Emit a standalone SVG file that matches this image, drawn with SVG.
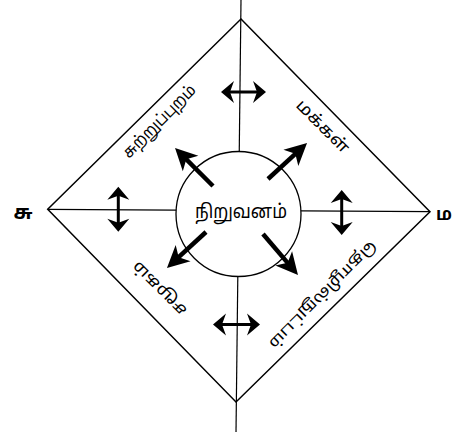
<svg xmlns="http://www.w3.org/2000/svg" width="453" height="432" viewBox="0 0 453 432">
<style>
.frame{fill:none;stroke:#000;stroke-width:1.5}
.axis{fill:none;stroke:#000;stroke-width:1.2}
.big{stroke:#000;stroke-width:4.5;fill:none}
.dbl{stroke:#000;stroke-width:3;fill:none}
.lbl{font-family:"Noto Sans Tamil","Lohit Tamil","Noto Sans","DejaVu Sans",sans-serif;fill:#000;text-anchor:middle}
</style>
<defs>
<marker id="headBig" markerUnits="userSpaceOnUse" markerWidth="40" markerHeight="40" viewBox="-20 -20 40 40" refX="0" refY="0" orient="auto">
<path d="M10,0 L-12,-11 L-6,0 L-12,11 Z" fill="#000"/>
</marker>
<marker id="headDbl" markerUnits="userSpaceOnUse" markerWidth="30" markerHeight="30" viewBox="-15 -15 30 30" refX="0" refY="0" orient="auto-start-reverse">
<path d="M6,0 L-7,-11 L-3,0 L-7,11 Z" fill="#000"/>
</marker>
</defs>
<rect width="453" height="432" fill="#fff"/>
<g id="connectors">
<polygon class="frame" points="241,19 430,211.7 236,402 47.7,209.3"/>
<line class="axis" x1="241" y1="0" x2="236" y2="432"/>
<line class="axis" x1="47.7" y1="209.3" x2="430" y2="211.7"/>
</g>
<g id="node-center">
<circle cx="238.5" cy="214" r="62.5" fill="#fff" stroke="#000" stroke-width="1.3"/>
<text class="lbl" x="241" y="211" dy="0.35em" font-size="19" textLength="92" lengthAdjust="spacingAndGlyphs">நிறுவனம்</text>
</g>
<g id="arrows">
<line class="big" x1="213" y1="186" x2="182.1" y2="155.1" marker-end="url(#headBig)"/>
<line class="big" x1="268" y1="179" x2="299.7" y2="149.8" marker-end="url(#headBig)"/>
<line class="big" x1="206" y1="232" x2="174.3" y2="261.2" marker-end="url(#headBig)"/>
<line class="big" x1="263" y1="234" x2="291.5" y2="267.4" marker-end="url(#headBig)"/>
<line class="dbl" x1="227" y1="92" x2="260" y2="92" marker-start="url(#headDbl)" marker-end="url(#headDbl)"/>
<line class="dbl" x1="219" y1="324.5" x2="254" y2="324.5" marker-start="url(#headDbl)" marker-end="url(#headDbl)"/>
<line class="dbl" x1="118.3" y1="192.7" x2="118.3" y2="225.7" marker-start="url(#headDbl)" marker-end="url(#headDbl)"/>
<line class="dbl" x1="341.7" y1="196" x2="341.7" y2="229" marker-start="url(#headDbl)" marker-end="url(#headDbl)"/>
</g>
<g id="node-environment">
<text class="lbl" transform="translate(159,121) rotate(-45)" dy="0.35em" font-size="16" textLength="96" lengthAdjust="spacingAndGlyphs">சுற்றுப்புறம்</text>
</g>
<g id="node-people">
<text class="lbl" transform="translate(323,126) rotate(45)" dy="0.35em" font-size="16" textLength="68" lengthAdjust="spacingAndGlyphs">மக்கள்</text>
</g>
<g id="node-technology">
<text class="lbl" transform="translate(323,295) rotate(135)" dy="0.35em" font-size="15" textLength="145" lengthAdjust="spacingAndGlyphs">தொழில்நுட்பம்</text>
</g>
<g id="node-society">
<text class="lbl" transform="translate(159,289) rotate(-135)" dy="0.35em" font-size="16" textLength="70" lengthAdjust="spacingAndGlyphs">சமூகம்</text>
</g>
<g id="node-left">
<text class="lbl" x="23" y="219" font-size="20" font-weight="bold">சு</text>
</g>
<g id="node-right">
<text class="lbl" x="436" y="220" font-size="17" font-weight="bold" style="text-anchor:start">ம</text>
</g>
</svg>
